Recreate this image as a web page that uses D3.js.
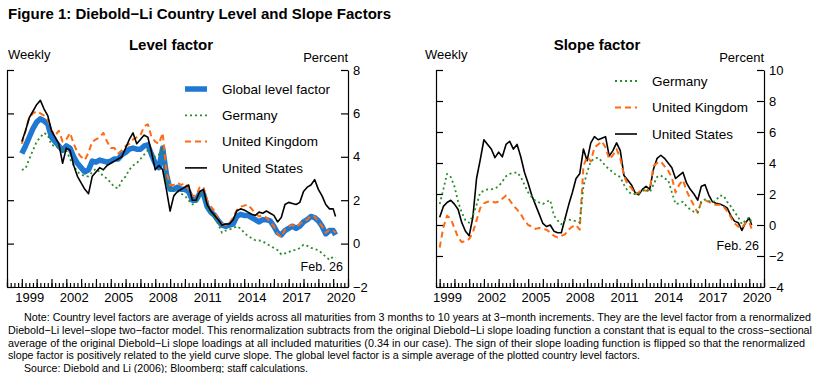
<!DOCTYPE html>
<html>
<head>
<meta charset="utf-8">
<script src="https://cdn.jsdelivr.net/npm/d3@7"></script>
<style>
  body { margin: 0; background: #fff; }
  svg text { font-family: "Liberation Sans", Arial, sans-serif; fill: #000; }
</style>
</head>
<body>
<div id="chart"></div>
<script>
// Quarterly readings of the weekly series, last point is Feb. 26 2020
var obsDates = d3.range(1999, 2020.01, 0.25).concat([2020.16]);

// Level factors (percent)
var levelGlobal = [
  4.15, 4.5, 4.9, 5.3,   5.6, 5.75, 5.65, 5.5,   4.9, 4.7, 4.5, 4.3,
  4.5, 4.4, 4.0, 3.7,    3.5, 3.3, 3.4, 3.8,     3.75, 3.85, 3.8, 3.75,
  3.8, 3.9, 3.9, 4.1,    4.2, 4.35, 4.4, 4.35,   4.35, 4.5, 4.55, 4.1,
  3.7, 3.5, 4.4, 3.2,    2.5, 2.5, 2.6, 2.5,     2.5, 2.4, 2.0, 2.0,
  2.3, 2.3, 1.7, 1.45,   1.3, 1.05, 0.85, 0.8,   0.85, 0.9, 1.25, 1.35,
  1.3, 1.3, 1.2, 1.1,    1.0, 1.1, 1.1, 1.05,    0.8, 0.5, 0.4, 0.6,
  0.7, 0.8, 0.7, 0.8,    1.0, 1.1, 1.25, 1.2,    1.05, 0.8, 0.45, 0.6,
  0.6, 0.4
];
var levelGermany = [
  3.4, 3.45, 3.9, 4.3,   4.7, 4.9, 5.1, 5.0,     4.55, 4.5, 4.4, 4.35,
  4.3, 3.9, 3.6, 3.3,    3.2, 3.1, 3.1, 3.3,     3.45, 3.3, 3.1, 3.0,
  2.8, 2.6, 2.55, 2.9,   3.1, 3.4, 3.6, 3.7,     3.9, 4.1, 4.3, 4.1,
  4.0, 4.1, 4.45, 2.9,   2.5, 2.5, 2.4, 2.3,     2.2, 2.0, 1.8, 1.9,
  2.3, 2.3, 1.7, 1.4,    1.2, 0.9, 0.5, 0.6,     0.65, 0.7, 0.8, 0.7,
  0.5, 0.35, 0.25, 0.15, 0.15, 0.1, 0.0, -0.1,   -0.2, -0.3, -0.5, -0.45,
  -0.4, -0.3, -0.3, -0.2, -0.05, -0.1, -0.2, -0.25, -0.3, -0.45, -0.6, -0.75,
  -0.6, -0.65
];
var levelUK = [
  4.6, 5.2, 5.8, 6.0,    6.1, 6.0, 5.9, 5.7,     5.2, 5.0, 5.2, 4.7,
  4.8, 5.1, 4.6, 4.2,    4.0, 3.85, 4.2, 4.7,    4.8, 4.9, 5.1, 4.7,
  4.4, 4.4, 4.15, 4.3,   4.5, 4.6, 4.8, 4.9,     5.0, 5.4, 5.5, 4.9,
  4.7, 4.6, 5.1, 3.3,    2.7, 2.7, 2.8, 2.7,     2.8, 2.5, 2.2, 2.2,
  2.6, 2.6, 2.0, 1.7,    1.5, 1.1, 0.9, 0.85,    0.95, 1.2, 1.55, 1.7,
  1.75, 1.8, 1.6, 1.4,   1.25, 1.3, 1.2, 1.0,    0.8, 0.45, 0.3, 0.65,
  0.8, 0.85, 0.75, 0.9,  1.05, 1.1, 1.3, 1.25,   1.0, 0.8, 0.5, 0.65,
  0.6, 0.5
];
var levelUS = [
  4.7, 5.2, 5.8, 6.1,    6.4, 6.6, 6.2, 5.9,     5.2, 4.9, 4.6, 3.7,
  4.4, 4.3, 3.6, 3.1,    2.8, 2.5, 2.3, 3.1,     3.3, 3.5, 3.4, 3.6,
  3.7, 3.8, 3.9, 4.0,    4.4, 4.8, 5.1, 4.6,     4.8, 5.0, 4.9, 4.2,
  3.4, 3.6, 3.4, 2.5,    1.5, 2.2, 2.4, 2.5,     2.6, 2.7, 2.0, 2.0,
  2.4, 2.5, 1.8, 1.5,    1.3, 1.1, 0.85, 0.9,    0.9, 1.1, 1.5, 1.6,
  1.55, 1.45, 1.35, 1.3, 1.45, 1.4, 1.5, 1.4,    1.3, 1.0, 1.2, 1.8,
  1.9, 1.85, 1.8, 1.9,   2.4, 2.6, 2.7, 2.95,    2.5, 2.2, 1.8, 1.6,
  1.6, 1.25
];

// Slope factors (percent)
var slopeGermany = [
  1.35, 2.3, 3.3, 3.1,   2.5, 1.5, 0.8, 0.3,     0.15, 0.6, 1.3, 2.1,
  2.2, 2.3, 2.3, 2.35,   2.5, 2.8, 3.15, 3.3,    3.35, 3.4, 3.1, 2.6,
  2.1, 1.8, 1.55, 1.45,  1.35, 1.5, 1.6, 0.6,    0.3, 0.05, 0.3, 0.35,
  0.3, 0.25, 0.15, 2.5,  3.4, 4.1, 4.3, 4.35,    4.1, 3.8, 3.6, 3.4,
  3.2, 3.1, 2.6, 2.2,    2.0, 2.0, 2.0, 2.2,     2.3, 2.1, 2.6, 3.1,
  3.2, 3.0, 2.9, 2.1,    1.35, 1.4, 1.5, 1.2,    1.0, 0.85, 0.8, 1.5,
  1.65, 1.55, 1.45, 1.6, 1.9, 1.9, 1.5, 1.2,     0.85, 0.5, 0.05, 0.3,
  0.5, 0.15
];
var slopeUK = [
  -1.45, -0.15, 0.6, 0.4, -0.2, -0.8, -1.1, -1.05, -0.9, -0.5, 0.3, 1.1,
  1.4, 1.5, 1.55, 1.45,  1.5, 1.7, 1.9, 1.6,     1.25, 1.0, 0.7, 0.3,
  0.0, -0.1, -0.25, -0.2, -0.25, -0.3, -0.5, -0.7, -0.8, -0.7, -0.6, -0.3,
  -0.1, 0.0, -0.3, 3.8,  4.4, 4.1, 5.0, 5.2,     5.4, 5.0, 4.25, 4.5,
  4.9, 4.3, 3.2, 2.6,    2.4, 2.0, 2.1, 2.3,     2.2, 2.3, 3.8, 4.0,
  4.1, 3.8, 3.5, 3.05,   2.1, 2.6, 2.9, 2.2,     1.7, 1.25, 0.8, 1.5,
  1.6, 1.5, 1.35, 1.3,   1.3, 1.2, 0.9, 0.5,     0.1, -0.1, -0.2, 0.15,
  0.2, -0.25
];
var slopeUS = [
  0.5, 1.2, 1.45, 1.6,   1.35, 1.0, 0.15, -0.4,  -0.7, 0.5, 3.0, 4.2,
  5.5, 5.2, 4.9, 4.35,   4.7, 4.4, 5.2, 5.4,     4.9, 5.2, 4.4, 3.4,
  2.7, 1.9, 1.3, 0.7,    0.1, -0.1, 0.0, -0.4,   -0.5, -0.5, 0.4, 1.3,
  2.1, 3.0, 3.3, 4.9,    4.15, 5.3, 5.7, 5.5,    5.6, 5.7, 4.45, 4.8,
  5.3, 4.8, 3.2, 2.9,    2.6, 2.1, 1.95, 2.3,    2.5, 2.3, 3.6, 4.3,
  4.5, 4.3, 4.0, 3.7,    3.0, 3.2, 3.4, 2.7,     2.3, 2.0, 1.6, 2.5,
  2.6, 1.95, 1.5, 1.4,   1.35, 1.25, 1.1, 0.6,   0.25, 0.15, -0.35, 0.15,
  0.45, 0.0
];

var levelTicks = [8, 6, 4, 2, 0, -2];
var slopeTicks = [10, 8, 6, 4, 2, 0, -2, -4];
var yearLabels = [1999, 2002, 2005, 2008, 2011, 2014, 2017, 2020];

var noteLines = [
  "Note: Country level factors are average of yields across all maturities from 3 months to 10 years at 3\u2212month increments. They are the level factor from a renormalized",
  "Diebold\u2212Li level\u2212slope two\u2212factor model. This renormalization subtracts from the original Diebold\u2212Li slope loading function a constant that is equal to the cross\u2212sectional",
  "average of the original Diebold\u2212Li slope loadings at all included maturities (0.34 in our case). The sign of their slope loading function is flipped so that the renormalized",
  "slope factor is positively related to the yield curve slope. The global level factor is a simple average of the plotted country level factors.",
  "Source: Diebold and Li (2006); Bloomberg; staff calculations."
];

var colors = { global: "#1f78d1", germany: "#2a8c2a", uk: "#ff6a13", us: "#000" };

var svg = d3.select("#chart").append("svg")
  .attr("width", 819)
  .attr("height", 373);

svg.append("text")
  .attr("x", 8).attr("y", 19)
  .attr("font-size", 15).attr("font-weight", "bold")
  .text("Figure 1: Diebold\u2212Li Country Level and Slope Factors");

var plotTop = 70, plotBottom = 287;

function drawPanel(p) {
  var x = d3.scaleLinear().domain(p.xDomain).range([p.left, p.right]);
  var y = d3.scaleLinear().domain(p.yDomain).range([plotBottom, plotTop]);

  svg.append("text")
    .attr("x", p.titleX).attr("y", 50)
    .attr("text-anchor", "middle")
    .attr("font-size", 15).attr("font-weight", "bold")
    .text(p.title);
  svg.append("text")
    .attr("x", p.weeklyX).attr("y", 59)
    .attr("font-size", 13)
    .text("Weekly");
  svg.append("text")
    .attr("x", p.right).attr("y", 62)
    .attr("text-anchor", "end")
    .attr("font-size", 13)
    .text("Percent");

  // left y axis, ticks inward only
  svg.append("g")
    .attr("transform", `translate(${p.left},0)`)
    .call(d3.axisRight(y).tickValues(p.yTicks).tickSize(7).tickSizeOuter(0).tickFormat(""));

  // right y axis with labels outside
  var rAxis = svg.append("g")
    .attr("transform", `translate(${p.right},0)`)
    .call(d3.axisRight(y).tickValues(p.yTicks).tickSizeInner(-7).tickSizeOuter(0).tickPadding(5));
  rAxis.selectAll("text").attr("font-size", 13).attr("font-family", "Liberation Sans, Arial, sans-serif");

  // bottom axis: quarter ticks, year ticks, mid-year labels
  var quarters = d3.range(Math.ceil(p.xDomain[0] * 4) / 4, p.xDomain[1] + 0.001, 0.25);
  var years = d3.range(Math.ceil(p.xDomain[0]), p.xDomain[1] + 0.001, 1);
  svg.append("g")
    .attr("transform", `translate(0,${plotBottom})`)
    .call(d3.axisBottom(x).tickValues(quarters).tickSizeInner(-4).tickSizeOuter(0).tickFormat(""));
  svg.append("g")
    .attr("transform", `translate(0,${plotBottom})`)
    .call(d3.axisBottom(x).tickValues(years).tickSizeInner(-8).tickSizeOuter(0).tickFormat(""));
  var xLab = svg.append("g")
    .attr("transform", `translate(0,${plotBottom})`)
    .call(d3.axisBottom(x).tickValues(yearLabels.map(d => d + 0.5)).tickSize(0).tickPadding(6)
      .tickFormat(d => String(Math.floor(d))));
  xLab.select(".domain").remove();
  xLab.selectAll("text").attr("font-size", 13).attr("font-family", "Liberation Sans, Arial, sans-serif");

  svg.selectAll(".tick line, .domain").attr("stroke", "#000").attr("stroke-width", 1.2);

  var line = d3.line()
    .x((d, i) => x(obsDates[i]))
    .y(d => y(d));

  p.series.forEach(function(s) {
    svg.append("path")
      .datum(s.values)
      .attr("fill", "none")
      .attr("stroke", s.color)
      .attr("stroke-width", s.width)
      .attr("stroke-dasharray", s.dash)
      .attr("stroke-linejoin", "round")
      .attr("d", line);
  });

  // legend
  p.legend.forEach(function(s, i) {
    var ly = p.legendY + i * p.legendStep;
    svg.append("line")
      .attr("x1", p.legendX).attr("x2", p.legendX + 22)
      .attr("y1", ly).attr("y2", ly)
      .attr("stroke", s.color)
      .attr("stroke-width", s.width)
      .attr("stroke-dasharray", s.dash);
    svg.append("text")
      .attr("x", p.legendX + 37).attr("y", ly)
      .attr("dy", "0.35em")
      .attr("font-size", 13.5)
      .text(s.name);
  });

  svg.append("text")
    .attr("x", p.right - 5).attr("y", p.febY)
    .attr("text-anchor", "end")
    .attr("font-size", 12.5)
    .text("Feb. 26");
}

var sGlobal = { name: "Global level factor", color: colors.global, width: 5.5, dash: null, values: levelGlobal };
var sGermanyL = { name: "Germany", color: colors.germany, width: 1.8, dash: "2,3", values: levelGermany };
var sUKL = { name: "United Kingdom", color: colors.uk, width: 2, dash: "6,4", values: levelUK };
var sUSL = { name: "United States", color: colors.us, width: 1.6, dash: null, values: levelUS };

drawPanel({
  title: "Level factor", titleX: 171, weeklyX: 8,
  left: 7, right: 348,
  xDomain: [1998, 2021], yDomain: [-2, 8], yTicks: levelTicks,
  series: [sGlobal, sGermanyL, sUKL, sUSL],
  legend: [sGlobal, sGermanyL, sUKL, sUSL],
  legendX: 185, legendY: 89, legendStep: 26.3,
  febY: 271
});

var sGermanyS = { name: "Germany", color: colors.germany, width: 1.8, dash: "2,3", values: slopeGermany };
var sUKS = { name: "United Kingdom", color: colors.uk, width: 2, dash: "6,4", values: slopeUK };
var sUSS = { name: "United States", color: colors.us, width: 1.6, dash: null, values: slopeUS };

drawPanel({
  title: "Slope factor", titleX: 597, weeklyX: 425,
  left: 436, right: 764,
  xDomain: [1998.75, 2021], yDomain: [-4, 10], yTicks: slopeTicks,
  series: [sUSS, sUKS, sGermanyS],
  legend: [sGermanyS, sUKS, sUSS],
  legendX: 615, legendY: 81, legendStep: 26.5,
  febY: 250
});

// notes, squeezed to the reference line widths
var noteX = [24, 8, 8, 8, 24];
var noteW = [787, 804, 797, 632, 284];
noteLines.forEach(function(t, i) {
  svg.append("text")
    .attr("x", noteX[i]).attr("y", 321 + i * 12.8)
    .attr("font-size", 10)
    .attr("textLength", noteW[i])
    .attr("lengthAdjust", "spacingAndGlyphs")
    .attr("transform", `translate(${noteX[i]},0) scale(1,1.12) translate(${-noteX[i]},0)`)
    .attr("y", (321 + i * 12.8) / 1.12)
    .style("font-family", "'Liberation Sans Narrow', 'Arial Narrow', 'Liberation Sans', sans-serif")
    .text(t);
});
</script>
</body>
</html>
